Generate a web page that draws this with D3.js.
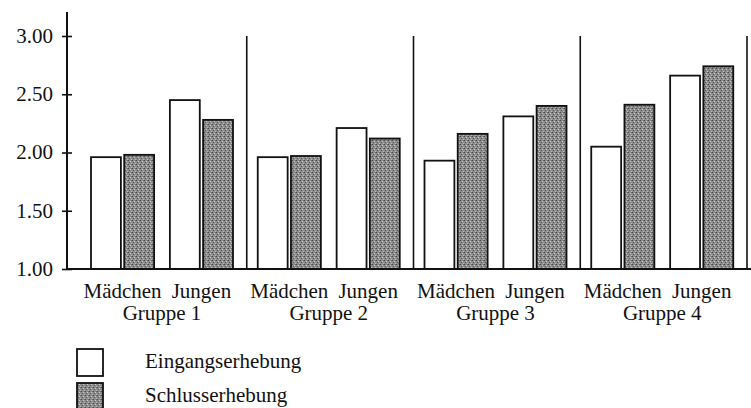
<!DOCTYPE html>
<html>
<head>
<meta charset="utf-8">
<script src="https://cdn.jsdelivr.net/npm/d3@7"></script>
<style>
  body { margin: 0; background: #fff; }
  text { font-family: "Liberation Serif", "Times New Roman", serif; fill: #111; }
</style>
</head>
<body>
<div id="chart-area"></div>
<script>
const W = 751, H = 408

// data
const groups = ["Gruppe 1", "Gruppe 2", "Gruppe 3", "Gruppe 4"]
const sexes = ["Mädchen", "Jungen"]
const series = ["Eingangserhebung", "Schlusserhebung"]
// [Mädchen, Jungen] per group
const eingang = [[1.96, 2.45], [1.96, 2.21], [1.93, 2.31], [2.05, 2.66]]
const schluss = [[1.98, 2.28], [1.97, 2.12], [2.16, 2.40], [2.41, 2.74]]
const yTicks = [1.00, 1.50, 2.00, 2.50, 3.00]

const svg = d3.select("#chart-area").append("svg")
  .attr("width", W)
  .attr("height", H)

// stippled grey fill
const pat = svg.append("defs").append("pattern")
  .attr("id", "stip")
  .attr("width", 4).attr("height", 4)
  .attr("patternUnits", "userSpaceOnUse")
pat.append("rect").attr("width", 4).attr("height", 4).attr("fill", "#8c8c8c")
pat.append("rect").attr("x", 0).attr("y", 0).attr("width", 1).attr("height", 1).attr("fill", "#4a4a4a")
pat.append("rect").attr("x", 2).attr("y", 1).attr("width", 1).attr("height", 1).attr("fill", "#c8c8c8")
pat.append("rect").attr("x", 1).attr("y", 2).attr("width", 1).attr("height", 1).attr("fill", "#5a5a5a")
pat.append("rect").attr("x", 3).attr("y", 3).attr("width", 1).attr("height", 1).attr("fill", "#bcbcbc")
pat.append("rect").attr("x", 3).attr("y", 0).attr("width", 1).attr("height", 1).attr("fill", "#6a6a6a")

const AXIS_X = 67

const y = d3.scaleLinear().domain([1, 3]).range([269, 36])

const x0 = d3.scaleBand().domain(groups).range([80, 747])
const x1 = d3.scaleBand().domain(sexes).range([11, 153]).paddingInner(0.2)
const x2 = d3.scaleBand().domain(series).range([0, x1.bandwidth()]).paddingInner(0.1)

const rows = []
groups.forEach((g, gi) => {
  sexes.forEach((s, si) => {
    rows.push({ g, s, k: series[0], v: eingang[gi][si] })
    rows.push({ g, s, k: series[1], v: schluss[gi][si] })
  })
})

// bars
svg.selectAll("rect.bar")
  .data(rows)
  .join("rect")
  .attr("class", "bar")
  .attr("x", d => x0(d.g) + x1(d.s) + x2(d.k))
  .attr("y", d => y(d.v))
  .attr("width", x2.bandwidth())
  .attr("height", d => y(1) - y(d.v))
  .attr("fill", d => d.k == series[0] ? "#fff" : "url(#stip)")
  .attr("stroke", "#111")
  .attr("stroke-width", 1.8)

// group separators
svg.selectAll("line.sep")
  .data(groups)
  .join("line")
  .attr("class", "sep")
  .attr("x1", d => x0(d) + x0.bandwidth())
  .attr("x2", d => x0(d) + x0.bandwidth())
  .attr("y1", y(3))
  .attr("y2", y(1))
  .attr("stroke", "#111")
  .attr("stroke-width", 1.6)

// baseline
svg.append("line")
  .attr("x1", AXIS_X).attr("x2", W)
  .attr("y1", y(1)).attr("y2", y(1))
  .attr("stroke", "#111").attr("stroke-width", 2)

// y axis
const yAxis = svg.append("g")
  .attr("transform", `translate(${AXIS_X},0)`)
  .call(d3.axisLeft(y).tickValues(yTicks).tickFormat(d3.format(".2f")).tickSize(0).tickPadding(14))
yAxis.select(".domain").remove()
yAxis.selectAll(".tick line")
  .attr("x1", -5).attr("x2", 5)
  .attr("stroke", "#111").attr("stroke-width", 1.6)
yAxis.selectAll(".tick text")
  .attr("font-family", "Liberation Serif")
  .attr("font-size", 21)
  .attr("dy", "0.3em")
yAxis.append("line")
  .attr("x1", 0).attr("x2", 0)
  .attr("y1", 12).attr("y2", y(1) + 1)
  .attr("stroke", "#111").attr("stroke-width", 2)

// category labels
const sexRows = []
groups.forEach(g => sexes.forEach(s => sexRows.push({ g, s })))
svg.selectAll("text.sex")
  .data(sexRows)
  .join("text")
  .attr("class", "sex")
  .attr("x", d => x0(d.g) + x1(d.s) + x1.bandwidth() / 2)
  .attr("y", 298)
  .attr("text-anchor", "middle")
  .attr("font-size", 21)
  .text(d => d.s)

svg.selectAll("text.grp")
  .data(groups)
  .join("text")
  .attr("class", "grp")
  .attr("x", d => x0(d) + (x1(sexes[0]) + x1(sexes[1]) + x1.bandwidth()) / 2)
  .attr("y", 320)
  .attr("text-anchor", "middle")
  .attr("font-size", 21)
  .text(d => d)

// legend
const legend = svg.selectAll("g.leg")
  .data(series)
  .join("g")
  .attr("class", "leg")
  .attr("transform", (d, i) => `translate(77,${349 + i * 34})`)
legend.append("rect")
  .attr("width", 26).attr("height", 27)
  .attr("fill", (d, i) => i == 0 ? "#fff" : "url(#stip)")
  .attr("stroke", "#111").attr("stroke-width", 1.8)
legend.append("text")
  .attr("x", 68).attr("y", 19)
  .attr("font-size", 21)
  .text(d => d)
</script>
</body>
</html>
